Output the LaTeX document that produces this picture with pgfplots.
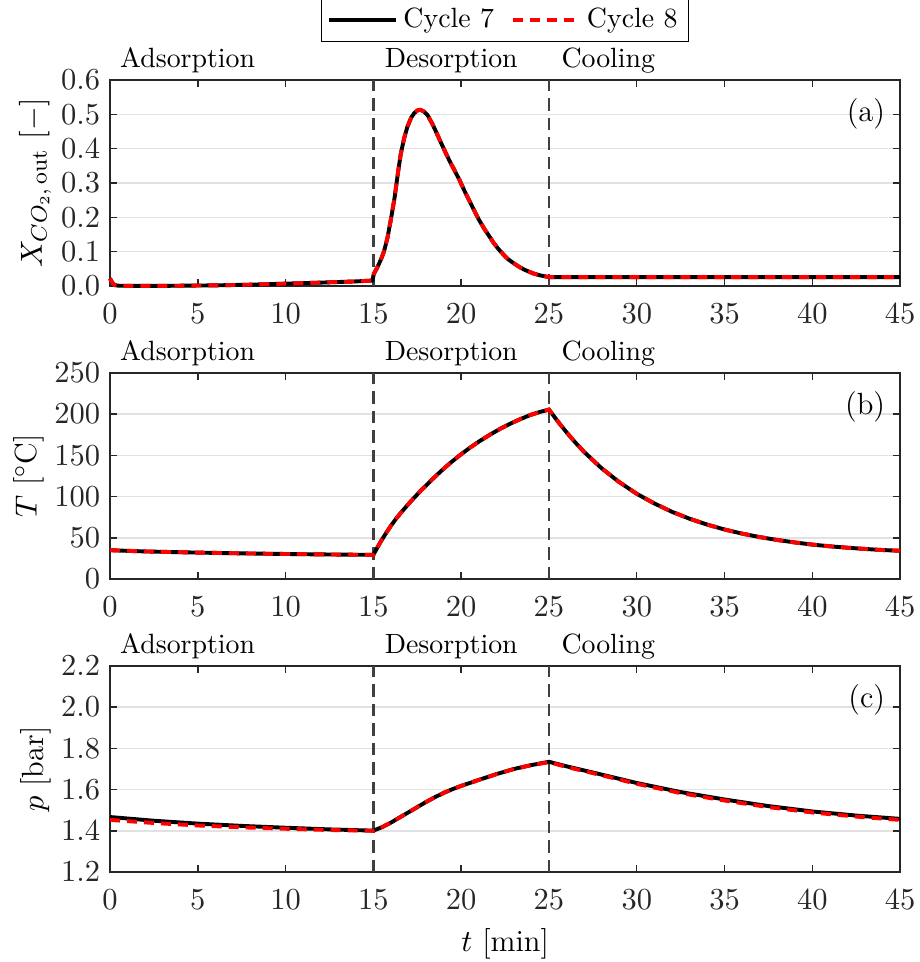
\documentclass[border=0pt]{standalone}
\usepackage{pgfplots}
\pgfplotsset{compat=1.18}
\usepackage{pgfplotstable}

\definecolor{axgray}{RGB}{38,38,38}
\definecolor{vgray}{RGB}{64,64,64}
\definecolor{gridc}{RGB}{226,226,226}

% CO2 outlet fraction, cycles 7 and 8 overlap
\pgfplotstableread{
t x
0 0.022
0.1 0.012
0.25 0.003
0.5 0.0008
3 0.0005
6 0.002
8 0.004
10 0.007
12 0.010
14 0.0135
14.95 0.016
15.02 0.035
15.2 0.052
15.42 0.076
15.6 0.100
15.8 0.140
16.0 0.195
16.2 0.255
16.4 0.330
16.56 0.385
16.75 0.430
16.94 0.464
17.15 0.490
17.32 0.503
17.5 0.511
17.66 0.513
17.85 0.509
18.08 0.498
18.35 0.473
18.65 0.440
18.95 0.406
19.21 0.378
19.4 0.358
19.6 0.339
19.9 0.309
20.16 0.280
20.45 0.250
20.73 0.221
21.0 0.194
21.3 0.168
21.6 0.145
21.87 0.124
22.15 0.106
22.44 0.090
22.7 0.077
23.0 0.066
23.3 0.056
23.58 0.048
23.9 0.041
24.15 0.036
24.5 0.031
24.8 0.028
25.0 0.026
45 0.026
}\tabX

% temperature
\pgfplotstableread{
t T
0 35.0
1 34.2
2 33.5
3 33.0
4 32.5
5 32.1
6 31.7
7 31.3
8 31.0
9 30.7
10 30.4
11 30.1
12 29.9
13 29.7
14 29.5
15 29.4
15.2 37.2
15.42 45.5
15.7 55.0
15.98 64.0
16.25 72.0
16.55 80.0
17.12 94.0
17.69 107.0
18.26 119.0
18.83 130.5
19.39 141.0
19.96 150.8
20.53 159.8
21.1 168.0
21.67 175.5
22.23 182.3
22.8 188.5
23.37 194.0
23.94 199.0
24.5 202.8
25 205.5
25.5 191.3
26 178.0
26.5 165.6
27 154.2
28 134.3
29 117.6
30 103.4
31 91.7
32 81.6
33 73.2
34 66.1
35 60.1
36 55.1
37 50.9
38 47.4
39 44.4
40 41.8
41 39.7
42 38.0
43 36.5
44 35.2
45 34.3
}\tabT

% pressure, cycle 7
\pgfplotstableread{
t p
0 1.467
2.5 1.449
5 1.435
7.5 1.424
10 1.415
12.5 1.407
15 1.401
15.5 1.418
16 1.440
16.5 1.465
17 1.490
17.5 1.515
18 1.540
18.5 1.563
19 1.584
19.5 1.602
20 1.618
21 1.647
22 1.675
23 1.700
24 1.719
25 1.735
26 1.713
27.5 1.683
30 1.632
32.5 1.588
35 1.552
37.5 1.520
40 1.494
42.5 1.474
45 1.458
}\tabPa

% pressure, cycle 8
\pgfplotstableread{
t p
0 1.453
2.5 1.438
5 1.426
7.5 1.417
10 1.410
12.5 1.404
15 1.400
15.5 1.418
16 1.440
16.5 1.465
17 1.490
17.5 1.515
18 1.540
18.5 1.563
19 1.584
19.5 1.602
20 1.618
21 1.647
22 1.675
23 1.700
24 1.719
25 1.733
26 1.710
27.5 1.680
30 1.628
32.5 1.583
35 1.547
37.5 1.515
40 1.489
42.5 1.469
45 1.453
}\tabPb

\pgfplotsset{
  panel/.style={
    scale only axis, width=283.7pt, height=74pt,
    xmin=0, xmax=45, xtick={0,5,...,45},
    tick align=inside, xtick pos=both, ytick pos=both,
    major tick length=2.6pt,
    axis line style={axgray, line width=0.5pt},
    every tick/.style={axgray, line width=0.5pt},
    ymajorgrids, grid style={gridc, line width=0.5pt},
    tick label style={font=\fontsize{11}{13}\selectfont, text=axgray},
    xticklabel style={yshift=-2.8pt},
    label style={font=\fontsize{11}{13}\selectfont},
    ylabel shift=-3.2pt,
    clip=false,
  },
  c7/.style={black, line width=1.4pt},
  c8/.style={red, line width=1.4pt, dash pattern=on 3.6pt off 2.5pt},
  vl/.style={vgray, line width=0.8pt, dash pattern=on 4.5pt off 2.5pt, forget plot},
}
\tikzset{
  phase/.style={anchor=base west, inner sep=0pt, yshift=4.3pt, font=\fontsize{10}{12}\selectfont},
  tag/.style={anchor=east, inner sep=0pt, xshift=-5.2pt, yshift=-12.3pt, font=\fontsize{11}{13}\selectfont},
}

\begin{document}
\begin{tikzpicture}
\useasboundingbox (0,0) rectangle (330pt,-345.4pt);

% (a)
\begin{axis}[panel, at={(39.5pt,-28.7pt)}, anchor=north west,
    ymin=0, ymax=0.6, ytick={0,0.1,0.2,0.3,0.4,0.5,0.6},
    scaled y ticks=false,
    yticklabel style={/pgf/number format/fixed, /pgf/number format/fixed zerofill,
                      /pgf/number format/precision=1},
    ylabel={$X_{CO_2,\,\mathrm{out}}$ $[-]$},
    legend columns=2,
    legend image code/.code={\draw[#1] (0pt,0pt) -- (24pt,0pt);},
    legend style={at={(0.5,1.1845)}, anchor=south, draw=black, line width=0.5pt,
                  font=\fontsize{10}{12}\selectfont, inner xsep=2pt, inner ysep=1.5pt,
                  /tikz/every even column/.append style={column sep=4pt}},
  ]
  \addplot[vl] coordinates {(15,0) (15,0.6)};
  \addplot[vl] coordinates {(25,0) (25,0.6)};
  \addplot[c7] table[x=t, y=x] {\tabX};
  \addplot[c8] table[x=t, y=x] {\tabX};
  \legend{Cycle 7, Cycle 8}
  \node[phase] at (rel axis cs:0.0122,1) {Adsorption};
  \node[phase] at (rel axis cs:0.347,1) {Desorption};
  \node[phase] at (rel axis cs:0.5707,1) {Cooling};
  \node[tag] at (rel axis cs:1,1) {(a)};
\end{axis}

% (b)
\begin{axis}[panel, at={(39.5pt,-133.9pt)}, anchor=north west,
    ymin=0, ymax=250, ytick={0,50,100,150,200,250},
    ylabel={$T$ [$^\circ$C]},
  ]
  \addplot[vl] coordinates {(15,0) (15,250)};
  \addplot[vl] coordinates {(25,0) (25,250)};
  \addplot[c7] table[x=t, y=T] {\tabT};
  \addplot[c8] table[x=t, y=T] {\tabT};
  \node[phase] at (rel axis cs:0.0122,1) {Adsorption};
  \node[phase] at (rel axis cs:0.347,1) {Desorption};
  \node[phase] at (rel axis cs:0.5707,1) {Cooling};
  \node[tag] at (rel axis cs:1,1) {(b)};
\end{axis}

% (c)
\begin{axis}[panel, at={(39.5pt,-239.1pt)}, anchor=north west,
    ymin=1.2, ymax=2.2, ytick={1.2,1.4,1.6,1.8,2.0,2.2},
    yticklabel style={/pgf/number format/fixed, /pgf/number format/fixed zerofill,
                      /pgf/number format/precision=1},
    ylabel={$p$ [bar]},
    xlabel={$t$ [min]},
  ]
  \addplot[vl] coordinates {(15,1.2) (15,2.2)};
  \addplot[vl] coordinates {(25,1.2) (25,2.2)};
  \addplot[c7] table[x=t, y=p] {\tabPa};
  \addplot[c8] table[x=t, y=p] {\tabPb};
  \node[phase] at (rel axis cs:0.0122,1) {Adsorption};
  \node[phase] at (rel axis cs:0.347,1) {Desorption};
  \node[phase] at (rel axis cs:0.5707,1) {Cooling};
  \node[tag] at (rel axis cs:1,1) {(c)};
\end{axis}
\end{tikzpicture}
\end{document}
